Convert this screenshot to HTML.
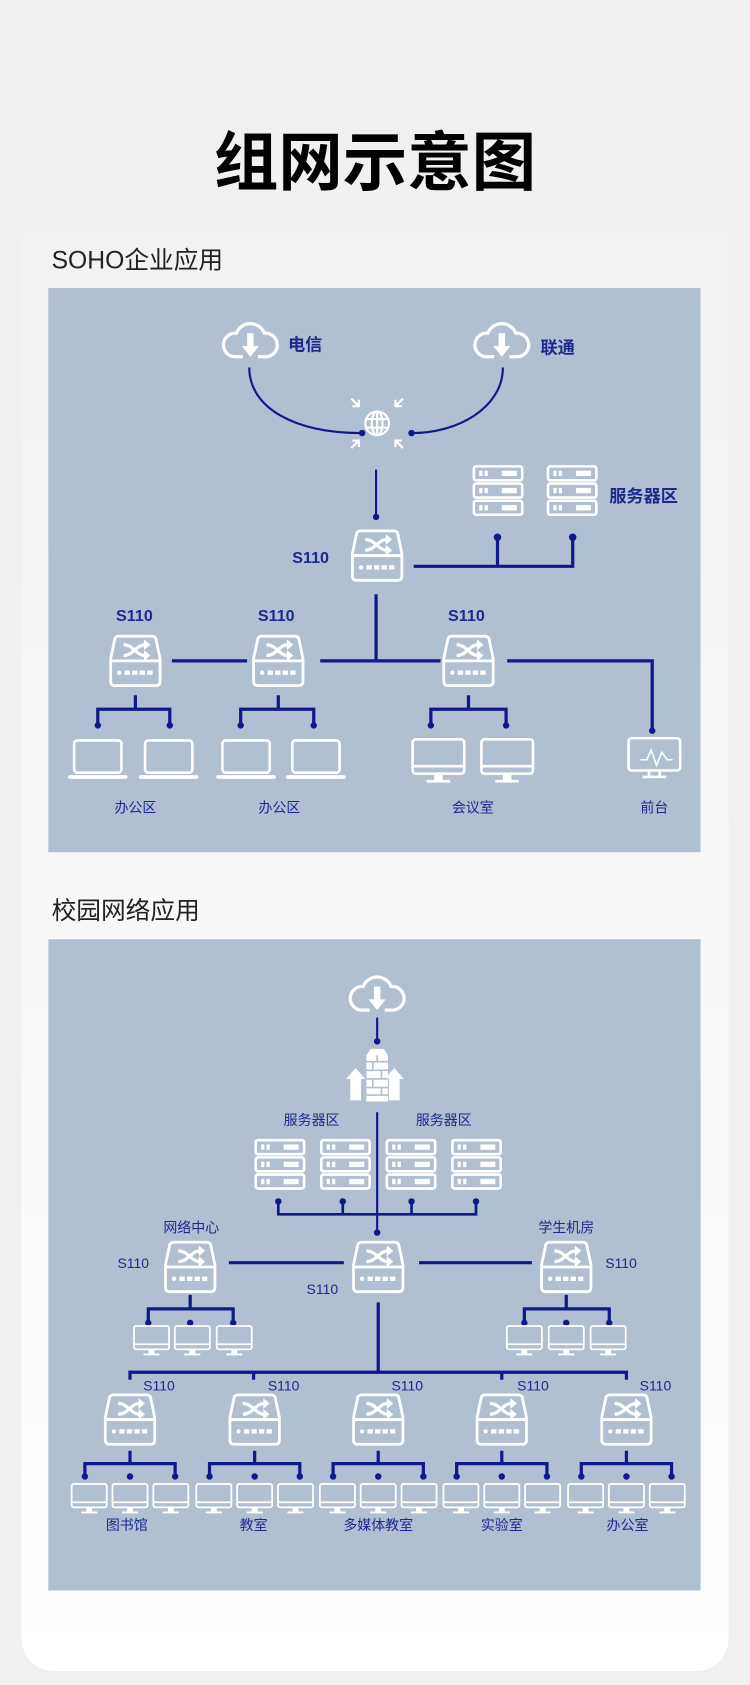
<!DOCTYPE html>
<html><head><meta charset="utf-8"><style>
html,body{margin:0;padding:0;background:#f0f0f0;}
svg{display:block;}
text{font-family:"Liberation Sans","Noto Sans CJK SC",sans-serif;}
</style></head><body>
<svg width="750" height="1685" viewBox="0 0 698 1568" preserveAspectRatio="none" xmlns="http://www.w3.org/2000/svg">
<defs>
<linearGradient id="bg" x1="0" y1="0" x2="0" y2="1">
<stop offset="0" stop-color="#f0f0f0"/><stop offset="0.2" stop-color="#f3f3f3"/><stop offset="1" stop-color="#ffffff"/>
</linearGradient>
<symbol id="sw" viewBox="0 0 48 46" overflow="visible">
<path d="M5,2 Q6,0 9,0 H39 Q42,0 43,2 L47,21 V42 Q47,46 43,46 H5 Q1,46 1,42 V21 Z" fill="none" stroke="#fff" stroke-width="2.6"/>
<path d="M1,23 H47" stroke="#fff" stroke-width="2.6"/>
<path d="M13,8 C22,8 25,18 33,18 M13,18 C22,18 25,8 33,8" fill="none" stroke="#fff" stroke-width="3"/>
<path d="M32,3 L38,8 L32,13 Z M32,13 L38,18 L32,23 Z" fill="#fff"/>
<circle cx="9" cy="34" r="2" fill="#fff"/>
<g fill="#fff"><rect x="14" y="32" width="5" height="4"/><rect x="21" y="32" width="5" height="4"/><rect x="28" y="32" width="5" height="4"/><rect x="35" y="32" width="5" height="4"/></g>
</symbol>
<symbol id="sv" viewBox="0 0 47 47" overflow="visible">
<g fill="none" stroke="#fff" stroke-width="2.4">
<rect x="1" y="1" width="45" height="13" rx="2"/><rect x="1" y="17" width="45" height="13" rx="2"/><rect x="1" y="33" width="45" height="13" rx="2"/></g>
<g fill="#fff">
<rect x="6" y="5" width="3" height="5"/><rect x="11" y="5" width="3" height="5"/><rect x="27" y="5" width="14" height="5"/>
<rect x="6" y="21" width="3" height="5"/><rect x="11" y="21" width="3" height="5"/><rect x="27" y="21" width="14" height="5"/>
<rect x="6" y="37" width="3" height="5"/><rect x="11" y="37" width="3" height="5"/><rect x="27" y="37" width="14" height="5"/></g>
</symbol>
<symbol id="lp" viewBox="0 0 52 38" overflow="visible">
<rect x="4" y="1" width="44" height="30" rx="3" fill="none" stroke="#fff" stroke-width="2.4"/>
<path d="M0,35 H52" stroke="#fff" stroke-width="3.5" stroke-linecap="round"/>
</symbol>
<symbol id="mn" viewBox="0 0 50 42" overflow="visible">
<rect x="1" y="1" width="48" height="32" rx="3" fill="none" stroke="#fff" stroke-width="2.4"/>
<path d="M1,26 H49" stroke="#fff" stroke-width="2.4"/>
<rect x="21" y="33" width="8" height="6" fill="#fff"/>
<path d="M14,40 H36" stroke="#fff" stroke-width="2.5"/>
</symbol>
<symbol id="cl" viewBox="0 0 54 38" overflow="visible">
<path d="M20,34 H12 A11,11 0 0 1 14,12 A14,14 0 0 1 40,12 A11,11 0 0 1 42,34 H34" fill="none" stroke="#fff" stroke-width="3"/>
<path d="M24,12 H30 V24 H35 L27,34 L19,24 H24 Z" fill="#fff"/>
</symbol>
</defs>
<rect width="698" height="1568" fill="#f0f0f0"/>
<rect x="20" y="85" width="658" height="1470" rx="30" fill="url(#bg)"/>
<text x="349" y="172" text-anchor="middle" font-size="60" font-weight="bold" fill="#000">组网示意图</text>
<text x="48" y="250" font-size="23" fill="#222">SOHO企业应用</text>
<text x="48" y="855" font-size="23" fill="#222">校园网络应用</text>
<rect x="45" y="268" width="607" height="525" fill="#b1bfd3"/>
<rect x="45" y="874" width="607" height="606" fill="#b1bfd3"/>

<g fill="#1a2a8c" font-weight="bold">
<!-- panel 1 -->
<use href="#cl" x="206" y="298" width="54" height="38"/>
<use href="#cl" x="440" y="298" width="54" height="38"/>
<text x="268" y="326" font-size="16">电信</text>
<text x="503" y="329" font-size="16">联通</text>
</g>
<g stroke="#0d1a8a" fill="none" stroke-width="2">
<path d="M232,342 C232,380 275,403 336,403"/>
<path d="M468,342 C468,380 425,403 384,403"/>
<path d="M350,437 V481"/>
</g>
<g fill="#0d1a8a"><circle cx="337" cy="403" r="3"/><circle cx="383" cy="403" r="3"/><circle cx="350" cy="481" r="3"/></g>
<g stroke="#fff" fill="none" stroke-width="2">
<circle cx="351" cy="394" r="11"/><ellipse cx="351" cy="394" rx="5" ry="11"/><path d="M340,390 H362 M340,398 H362 M351,383 V405"/>
<path d="M327,371 L334,378 M334,372 V378 H328"/>
<path d="M375,371 L368,378 M368,372 V378 H374"/>
<path d="M327,417 L334,410 M334,416 V410 H328"/>
<path d="M375,417 L368,410 M368,416 V410 H374"/>
</g>
<use href="#sw" x="327" y="494" width="48" height="46"/>
<use href="#sv" x="440" y="433" width="47" height="47"/>
<use href="#sv" x="509" y="433" width="47" height="47"/>
<g stroke="#0d1a8a" fill="none" stroke-width="3">
<path d="M385,527 H533 V500 M463,527 V500"/>
<path d="M350,553 V615 M298,615 H410 M160,615 H230 M472,615 H607 V680"/>
<path d="M126,647 V660 M91,675 V660 H158 V675"/>
<path d="M259,647 V660 M224,675 V660 H292 V675"/>
<path d="M436,647 V660 M401,675 V660 H471 V675"/>
</g>
<g fill="#0d1a8a"><circle cx="463" cy="500" r="3.5"/><circle cx="533" cy="500" r="3.5"/>
<circle cx="91" cy="675" r="3"/><circle cx="158" cy="675" r="3"/><circle cx="224" cy="675" r="3"/><circle cx="292" cy="675" r="3"/><circle cx="401" cy="675" r="3"/><circle cx="471" cy="675" r="3"/><circle cx="607" cy="680" r="3"/></g>
<use href="#sw" x="102" y="592" width="48" height="46"/>
<use href="#sw" x="235" y="592" width="48" height="46"/>
<use href="#sw" x="412" y="592" width="48" height="46"/>
<use href="#lp" x="65" y="688" width="52" height="38"/>
<use href="#lp" x="131" y="688" width="52" height="38"/>
<use href="#lp" x="203" y="688" width="52" height="38"/>
<use href="#lp" x="268" y="688" width="52" height="38"/>
<use href="#mn" x="383" y="687" width="50" height="42"/>
<use href="#mn" x="447" y="687" width="50" height="42"/>
<g stroke="#fff" fill="none" stroke-width="2.4"><rect x="585" y="687" width="48" height="30" rx="3"/><path d="M596,707 L602,707 L606,698 L611,712 L616,700 L621,707 L626,707" stroke-width="1.5"/><path d="M604,718 V722 M614,718 V722 M598,723 H620"/></g>
<g fill="#1a2a8c" font-weight="bold">
<text x="272" y="524" font-size="15">S110</text>
<text x="108" y="578" font-size="15">S110</text>
<text x="240" y="578" font-size="15">S110</text>
<text x="417" y="578" font-size="15">S110</text>
<text x="567" y="467" font-size="16">服务器区</text>
<text x="126" y="756" font-size="13" text-anchor="middle" font-weight="normal">办公区</text>
<text x="260" y="756" font-size="13" text-anchor="middle" font-weight="normal">办公区</text>
<text x="440" y="756" font-size="13" text-anchor="middle" font-weight="normal">会议室</text>
<text x="609" y="756" font-size="13" text-anchor="middle" font-weight="normal">前台</text>
</g>

<!-- panel 2 -->
<use href="#cl" x="324" y="906" width="54" height="38"/>
<g stroke="#0d1a8a" fill="none" stroke-width="2"><path d="M351,947 V969"/><path d="M351,1035 V1146"/></g>
<g fill="#0d1a8a"><circle cx="351" cy="969" r="3"/><circle cx="351" cy="1147" r="3"/></g>
<g fill="#fff">
<path d="M345,976 H357 L361,982 V1025 H341 V982 Z"/>
<path d="M326,1024 V1004 H322 L331,994 L340,1004 H336 V1024 Z"/>
<path d="M362,1024 V1004 H358 L367,994 L376,1004 H372 V1024 Z"/>
</g>
<g stroke="#b1bfd3" stroke-width="1.5"><path d="M341,988 H361 M341,996 H361 M341,1004 H361 M341,1012 H361 M341,1019 H361 M351,982 V988 M347,988 V996 M355,996 V1004 M347,1004 V1012 M355,1012 V1019"/></g>
<use href="#sv" x="237" y="1060" width="47" height="47"/>
<use href="#sv" x="298" y="1060" width="47" height="47"/>
<use href="#sv" x="359" y="1060" width="47" height="47"/>
<use href="#sv" x="420" y="1060" width="47" height="47"/>
<g stroke="#0d1a8a" fill="none" stroke-width="2.5">
<path d="M259,1118 V1130 H443 V1118 M319,1118 V1130 M383,1118 V1130"/>
</g>
<g stroke="#0d1a8a" fill="none" stroke-width="3">
<path d="M213,1175 H320 M390,1175 H495"/>
<path d="M352,1212 V1277 M121,1284 V1277 H583 V1284 M236,1277 V1284 M467,1277 V1284"/>
<path d="M177,1205 V1218 M138,1230 V1218 H217 V1230"/>
<path d="M527,1205 V1218 M488,1230 V1218 H567 V1230"/>
</g>
<g fill="#0d1a8a"><circle cx="259" cy="1118" r="3"/><circle cx="319" cy="1118" r="3"/><circle cx="383" cy="1118" r="3"/><circle cx="443" cy="1118" r="3"/>
<circle cx="138" cy="1231" r="3"/><circle cx="177" cy="1231" r="3"/><circle cx="217" cy="1231" r="3"/>
<circle cx="488" cy="1231" r="3"/><circle cx="527" cy="1231" r="3"/><circle cx="567" cy="1231" r="3"/></g>
<use href="#sw" x="153" y="1156" width="48" height="46"/>
<use href="#sw" x="328" y="1156" width="48" height="46"/>
<use href="#sw" x="503" y="1156" width="48" height="46"/>
<use href="#mn" x="124" y="1233" width="34" height="29"/>
<use href="#mn" x="162" y="1233" width="34" height="29"/>
<use href="#mn" x="201" y="1233" width="34" height="29"/>
<use href="#mn" x="471" y="1233" width="34" height="29"/>
<use href="#mn" x="510" y="1233" width="34" height="29"/>
<use href="#mn" x="549" y="1233" width="34" height="29"/>

<g id="col">
<use href="#sw" x="97" y="1298" width="48" height="46"/>
<path d="M121,1350 V1362 M79,1374 V1362 H163 V1374" stroke="#0d1a8a" fill="none" stroke-width="3"/>
<circle cx="79" cy="1374" r="3" fill="#0d1a8a"/><circle cx="121" cy="1374" r="3" fill="#0d1a8a"/><circle cx="163" cy="1374" r="3" fill="#0d1a8a"/>
<use href="#mn" x="66" y="1380" width="34" height="29"/>
<use href="#mn" x="104" y="1380" width="34" height="29"/>
<use href="#mn" x="142" y="1380" width="34" height="29"/>
</g>
<use href="#col" x="116"/>
<use href="#col" x="231"/>
<use href="#col" x="346"/>
<use href="#col" x="462"/>

<g fill="#1a2a8c">
<text x="290" y="1047" font-size="13" text-anchor="middle">服务器区</text>
<text x="413" y="1047" font-size="13" text-anchor="middle">服务器区</text>
<text x="178" y="1147" font-size="13" text-anchor="middle">网络中心</text>
<text x="527" y="1147" font-size="13" text-anchor="middle">学生机房</text>
<text x="124" y="1180" font-size="13" text-anchor="middle">S110</text>
<text x="578" y="1180" font-size="13" text-anchor="middle">S110</text>
<text x="300" y="1204" font-size="13" text-anchor="middle">S110</text>
<text x="148" y="1294" font-size="13" text-anchor="middle">S110</text>
<text x="264" y="1294" font-size="13" text-anchor="middle">S110</text>
<text x="379" y="1294" font-size="13" text-anchor="middle">S110</text>
<text x="496" y="1294" font-size="13" text-anchor="middle">S110</text>
<text x="610" y="1294" font-size="13" text-anchor="middle">S110</text>
<text x="118" y="1424" font-size="13" text-anchor="middle">图书馆</text>
<text x="236" y="1424" font-size="13" text-anchor="middle">教室</text>
<text x="352" y="1424" font-size="13" text-anchor="middle">多媒体教室</text>
<text x="467" y="1424" font-size="13" text-anchor="middle">实验室</text>
<text x="584" y="1424" font-size="13" text-anchor="middle">办公室</text>
</g>
</svg>
</body></html>
